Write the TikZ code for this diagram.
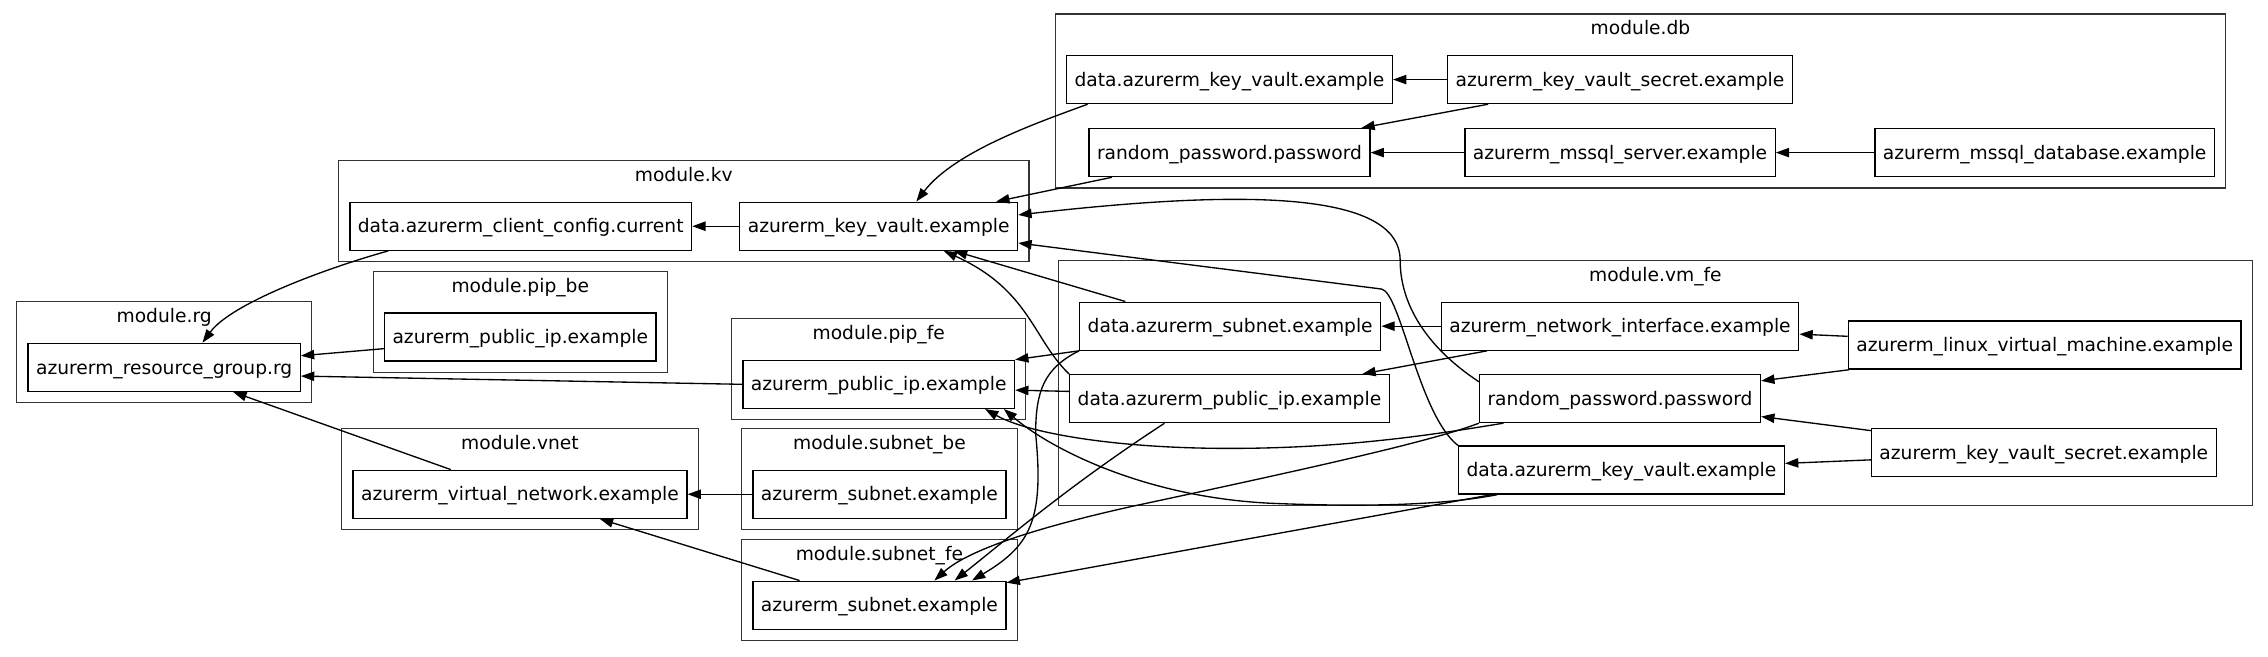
\documentclass[tikz,border=0pt]{standalone}
\usepackage{fontspec}
\setmainfont{DejaVu Sans}
\usepackage{tikz}
\usetikzlibrary{calc, arrows.meta, fit}

\begin{document}
\begin{tikzpicture}[x=1.0848pt, y=-1.0848pt, >={Triangle[length=10pt, width=7pt]}, font=\fontsize{14}{17}\selectfont]
    \tikzstyle{res} = [rectangle, draw=black, line width=1pt, inner xsep=6pt, minimum height=36pt, text height=13pt, text depth=3pt]
    \tikzstyle{module} = [rectangle, draw=black!80, line width=1pt, inner sep=8pt]
    \tikzstyle{modlabel} = [anchor=base, inner sep=0pt]
    \tikzstyle{dep} = [->, line width=1pt]

    \useasboundingbox (0,0) rectangle (1568,454);
    \fill [white] (0,0) rectangle (1568,454);

    % resources, one column after the other
    \node [res] (rg) at (113.5,254) {azurerm\_resource\_group.rg};
    \node [res] (kvclient) at (360,156.4) {data.azurerm\_client\_config.current};
    \node [res] (pipbe) at (359.7,233) {azurerm\_public\_ip.example};
    \node [res] (vnet) at (359.5,341.7) {azurerm\_virtual\_network.example};
    \node [res] (kvvault) at (607.5,156.4) {azurerm\_key\_vault.example};
    \node [res] (pipfe) at (607.5,265.7) {azurerm\_public\_ip.example};
    \node [res] (subnetbe) at (608,341.7) {azurerm\_subnet.example};
    \node [res] (subnetfe) at (608,418.4) {azurerm\_subnet.example};
    \node [res] (dbkv) at (850,55) {data.azurerm\_key\_vault.example};
    \node [res] (dbpw) at (850,105.5) {random\_password.password};
    \node [res] (vmsubnet) at (850.5,225.5) {data.azurerm\_subnet.example};
    \node [res] (vmpubip) at (850,275.6) {data.azurerm\_public\_ip.example};
    \node [res] (dbsecret) at (1120,55) {azurerm\_key\_vault\_secret.example};
    \node [res] (dbserver) at (1120,105.5) {azurerm\_mssql\_server.example};
    \node [res] (vmnic) at (1120,225.5) {azurerm\_network\_interface.example};
    \node [res] (vmpw) at (1120,275.5) {random\_password.password};
    \node [res] (vmkv) at (1121,325) {data.azurerm\_key\_vault.example};
    \node [res] (dbdatabase) at (1413.6,105.5) {azurerm\_mssql\_database.example};
    \node [res] (vmlinux) at (1413.6,238.6) {azurerm\_linux\_virtual\_machine.example};
    \node [res] (vmsecret) at (1413,313) {azurerm\_key\_vault\_secret.example};

    % module frames with their titles
    \node [module, fit={(dbkv) (dbsecret) (dbpw) (dbdatabase) ($(dbkv.north)+(0,-21)$)}] (mdb) {};
    \node [module, fit={(kvclient) (kvvault) ($(kvclient.north)+(0,-21)$)}] (mkv) {};
    \node [module, fit={(rg) ($(rg.north)+(0,-21)$)}] (mrg) {};
    \node [module, fit={(pipbe) ($(pipbe.north)+(0,-21)$)}] (mpipbe) {};
    \node [module, fit={(pipfe) ($(pipfe.north)+(0,-21)$)}] (mpipfe) {};
    \node [module, fit={(vnet) ($(vnet.north)+(0,-21)$)}] (mvnet) {};
    \node [module, fit={(subnetbe) ($(subnetbe.north)+(0,-21)$)}] (msubnetbe) {};
    \node [module, fit={(subnetfe) ($(subnetfe.north)+(0,-21)$)}] (msubnetfe) {};
    \node [module, fit={(vmsubnet) (vmpubip) (vmnic) (vmlinux) (vmkv) ($(vmsubnet.north)+(0,-21)$)}] (mvmfe) {};

    \node [modlabel] (ldb) at ($(mdb.north)+(0,14.8)$) {module.db};
    \node [modlabel] (lkv) at ($(mkv.north)+(0,14.8)$) {module.kv};
    \node [modlabel] (lrg) at ($(mrg.north)+(0,14.8)$) {module.rg};
    \node [modlabel] (lpipbe) at ($(mpipbe.north)+(0,14.8)$) {module.pip\_be};
    \node [modlabel] (lpipfe) at ($(mpipfe.north)+(0,14.8)$) {module.pip\_fe};
    \node [modlabel] (lvnet) at ($(mvnet.north)+(0,14.8)$) {module.vnet};
    \node [modlabel] (lsubnetbe) at ($(msubnetbe.north)+(0,14.8)$) {module.subnet\_be};
    \node [modlabel] (lsubnetfe) at ($(msubnetfe.north)+(0,14.8)$) {module.subnet\_fe};
    \node [modlabel] (lvmfe) at ($(mvmfe.north)+(0,14.8)$) {module.vm\_fe};

    % module.db
    \draw [dep] (dbsecret) -- (dbkv);
    \draw [dep] (dbsecret) -- (dbpw);
    \draw [dep] (dbserver) -- (dbpw);
    \draw [dep] (dbdatabase) -- (dbserver);
    \draw [dep] ($(dbkv.south west)+(15,0)$) .. controls +(-32.7,12) and +(26.5,-34.8) .. ($(kvvault.north)+(26,0)$);
    \draw [dep] (dbpw) -- (kvvault);

    % module.kv, rg, vnet
    \draw [dep] (kvvault) -- (kvclient);
    \draw [dep] ($(kvclient.south west)+(27,0)$) .. controls +(-43,12) and +(20,-27.4) .. ($(rg.north)+(26.5,0)$);
    \draw [dep] (pipbe) -- (rg);
    \draw [dep] (pipfe.west) -- ($(rg.east)+(0,6)$);
    \draw [dep] (vnet) -- (rg);
    \draw [dep] (subnetbe) -- (vnet);
    \draw [dep] (subnetfe) -- (vnet);

    % module.vm_fe inside
    \draw [dep] (vmnic) -- (vmsubnet);
    \draw [dep] (vmnic) -- (vmpubip);
    \draw [dep] (vmlinux) -- (vmnic);
    \draw [dep] (vmlinux) -- (vmpw);
    \draw [dep] (vmsecret) -- (vmpw);
    \draw [dep] (vmsecret) -- (vmkv);

    % module.vm_fe out to the other modules
    \draw [dep] ($(vmsubnet.north west)+(32,0)$) -- ($(kvvault.south)+(52,0)$);
    \draw [dep] (vmpubip.north west) .. controls +(-25,-24) and +(59.5,27) .. ($(kvvault.south)+(45,0)$);
    \draw [dep] (vmsubnet.south west) -- (pipfe.north east);
    \draw [dep] ($(vmpubip.west)+(0,-5)$) -- ($(pipfe.east)+(0,4)$);
    \draw [dep] ($(vmpw.west)+(0,-11.6)$) .. controls +(-36.5,-24) and (968,210) .. (968,180) .. controls +(0,-50) and +(146,-16.6) .. ($(kvvault.east)+(0,-7.8)$);
    \draw [dep] (vmkv.north west) .. controls +(-27,-21) and (968,201.5) .. (955,199.8) -- ($(kvvault.east)+(0,11.6)$);
    \draw [dep] (vmpw.south west) .. controls +(-32,12.5) and (900,325) .. (783,350) .. controls +(-63,14) and +(24,-21.8) .. ($(subnetfe.north)+(38,0)$);
    \draw [dep] ($(vmpw.south west)+(17,0)$) .. controls +(-48.6,8) and (930,310) .. (850,310) .. controls +(-80,0) and +(29,16.5) .. ($(pipfe.south)+(73.5,0)$);
    \draw [dep] ($(vmkv.south west)+(27,0)$) .. controls +(-44,8.4) and (930,350) .. (880,348) .. controls +(-90,-4) and +(31,26.5) .. ($(pipfe.south)+(86.5,0)$);
    \draw [dep] ($(vmkv.south west)+(23,0)$) -- ($(subnetfe.north east)+(0,1.5)$);
    \draw [dep] ($(vmpubip.south)+(-45,0)$) .. controls +(-65,42.4) and +(40,-31.8) .. ($(subnetfe.north)+(52,0)$);
    \draw [dep] (vmsubnet.south west) .. controls +(-24,12) and (716,270) .. (716,300) .. controls +(6,60) and +(40,-23.8) .. ($(subnetfe.north)+(64,0)$);
\end{tikzpicture}
\end{document}
